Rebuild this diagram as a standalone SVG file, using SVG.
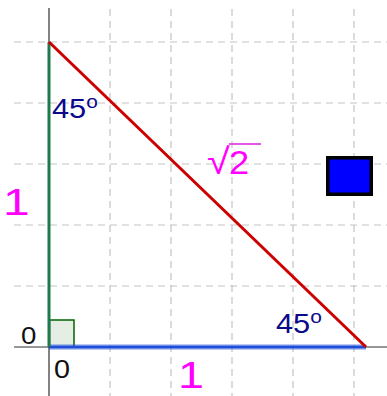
<svg xmlns="http://www.w3.org/2000/svg" width="387" height="396" viewBox="0 0 387 396">
<style>
.grid{stroke:#c4c4c4;stroke-width:1.2;stroke-dasharray:7,5;fill:none}
.axis{stroke:#303030;stroke-width:1.2;fill:none}
.ang{font-family:"Liberation Sans",Arial,sans-serif;font-size:28px;fill:#0a0a8a}
.deg{font-size:19px}
.mag{font-family:"Liberation Sans",Arial,sans-serif;fill:#ff00ff}
.num{font-family:"Liberation Sans",Arial,sans-serif;fill:#111}
</style>
<rect width="387" height="396" fill="#ffffff"/>
<g id="grid">
<path class="grid" d="M110 9V396M171 9V396M232 9V396M293 9V396M354 9V396M14 42H387M14 103H387M14 164H387M14 225H387M14 286H387"/>
</g>
<g id="axes">
<line class="axis" x1="49" y1="8" x2="49" y2="396"/>
<line class="axis" x1="14" y1="347" x2="387" y2="347"/>
<text class="num" transform="translate(21,344) scale(1.15,1)" font-size="24">0</text>
<text class="num" transform="translate(54,378) scale(1.15,1)" font-size="25">0</text>
</g>
<g id="right-angle">
<rect x="49.5" y="320" width="24.5" height="27" fill="#e4eee4" stroke="#006400" stroke-width="1.5"/>
</g>
<g id="connectors">
<line x1="49" y1="347" x2="366" y2="347" stroke="#1f4fd8" stroke-width="6" stroke-opacity="0.3"/>
<line x1="49" y1="347" x2="366" y2="347" stroke="#1f4fd8" stroke-width="3"/>
<line x1="49" y1="42" x2="49" y2="347" stroke="#1e7a4c" stroke-width="3"/>
<line x1="49" y1="42" x2="366" y2="347" stroke="#cc0000" stroke-width="3"/>
</g>
<g id="labels">
<text class="ang" transform="translate(52,118) scale(1.1,1)">45<tspan class="deg" dy="-10">o</tspan></text>
<text class="ang" transform="translate(276,333) scale(1.1,1)">45<tspan class="deg" dy="-10">o</tspan></text>
<text class="mag" transform="translate(3,215) scale(1.3,1)" font-size="37">1</text>
<text class="mag" transform="translate(178,388) scale(1.3,1)" font-size="36">1</text>
<text class="mag" transform="translate(207,174) scale(1.15,1)" font-size="36">√</text>
<line x1="229" y1="144" x2="261" y2="144" stroke="#e020e0" stroke-width="1.5"/>
<text class="mag" transform="translate(229,174) scale(1.1,1)" font-size="33">2</text>
</g>
<g id="blue-square">
<rect x="327.75" y="157.75" width="43.5" height="36.5" fill="#0000ff" stroke="#000" stroke-width="3.5"/>
</g>
</svg>
